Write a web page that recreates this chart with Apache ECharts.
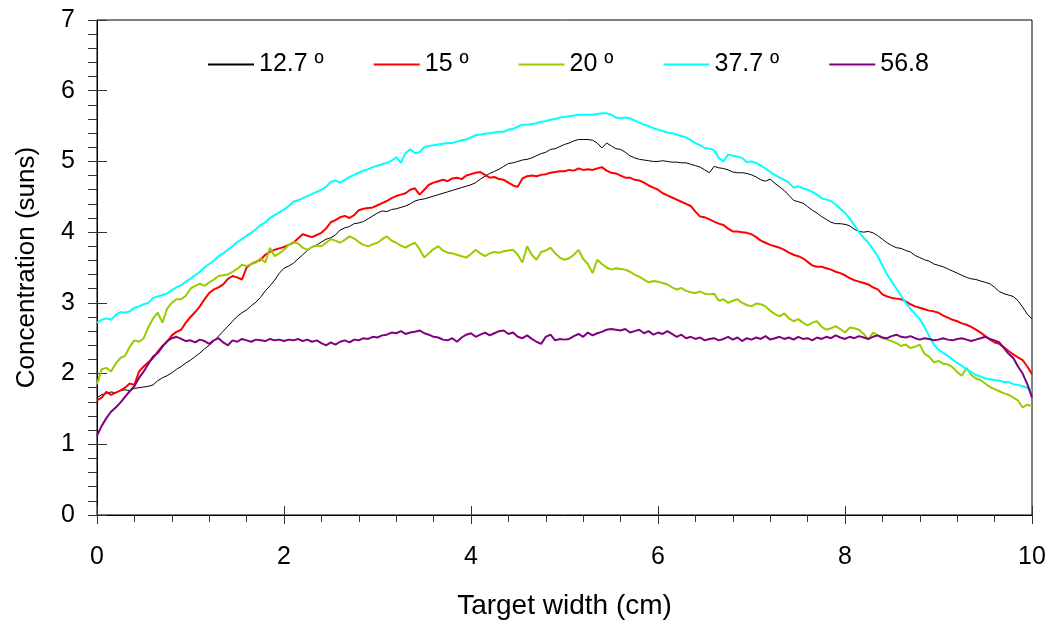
<!DOCTYPE html>
<html>
<head>
<meta charset="utf-8">
<script src="https://cdn.jsdelivr.net/npm/echarts@6/dist/echarts.min.js"></script>
<style>
html,body{margin:0;padding:0;background:#fff;}
#chart{width:1051px;height:625px;}
</style>
</head>
<body>
<div id="chart"></div>
<script>
// x positions (cm), step 0.05
const xValues = [];
for (let i = 0; i <= 200; i++) xValues.push(+(i * 0.05).toFixed(2));

const seriesNames = ['12.7 º', '15 º', '20 º', '37.7 º', '56.8'];

const s127 = [
1.66,1.70,1.72,1.74,1.73,1.76,1.77,1.76,1.79,1.80,1.81,1.82,1.84,1.90,1.94,1.97,2.01,2.06,2.10,2.15,
2.19,2.24,2.29,2.35,2.40,2.46,2.53,2.60,2.67,2.74,2.81,2.86,2.90,2.96,3.01,3.08,3.17,3.24,3.32,3.42,
3.49,3.52,3.56,3.62,3.68,3.74,3.79,3.82,3.86,3.90,3.92,3.96,4.03,4.06,4.08,4.12,4.13,4.15,4.19,4.23,
4.27,4.30,4.29,4.32,4.33,4.35,4.37,4.40,4.44,4.46,4.47,4.49,4.51,4.53,4.55,4.57,4.59,4.61,4.63,4.65,
4.67,4.70,4.75,4.79,4.83,4.86,4.89,4.93,4.97,4.98,5.00,5.02,5.03,5.05,5.08,5.11,5.13,5.17,5.18,5.21,
5.24,5.26,5.29,5.31,5.31,5.31,5.30,5.26,5.19,5.26,5.22,5.18,5.17,5.13,5.08,5.05,5.03,5.02,5.01,5.00,
5.00,5.01,5.00,4.99,4.99,4.98,4.98,4.96,4.94,4.92,4.88,4.84,4.93,4.91,4.90,4.88,4.85,4.84,4.84,4.83,
4.81,4.78,4.74,4.72,4.75,4.69,4.64,4.59,4.52,4.45,4.43,4.41,4.36,4.31,4.27,4.22,4.18,4.14,4.12,4.12,
4.11,4.09,4.04,4.01,4.00,4.01,3.99,3.95,3.90,3.85,3.81,3.78,3.77,3.74,3.72,3.67,3.64,3.61,3.59,3.55,
3.53,3.51,3.48,3.45,3.42,3.39,3.36,3.34,3.33,3.31,3.29,3.27,3.22,3.16,3.13,3.11,3.09,3.03,2.94,2.84,
2.77];

const s15 = [
1.62,1.66,1.74,1.70,1.73,1.76,1.80,1.86,1.84,2.03,2.10,2.16,2.22,2.31,2.39,2.45,2.54,2.59,2.62,2.72,
2.80,2.87,2.95,3.05,3.14,3.19,3.22,3.26,3.34,3.38,3.36,3.33,3.50,3.55,3.58,3.61,3.68,3.72,3.75,3.77,
3.79,3.82,3.85,3.91,3.97,3.95,3.93,3.96,3.99,4.05,4.14,4.17,4.21,4.23,4.20,4.24,4.31,4.33,4.34,4.35,
4.38,4.41,4.44,4.48,4.51,4.53,4.55,4.60,4.62,4.53,4.60,4.67,4.70,4.72,4.74,4.72,4.76,4.77,4.75,4.80,
4.82,4.84,4.85,4.81,4.77,4.78,4.75,4.74,4.70,4.66,4.64,4.76,4.79,4.80,4.79,4.81,4.82,4.84,4.85,4.86,
4.86,4.88,4.87,4.90,4.88,4.89,4.88,4.90,4.92,4.87,4.84,4.83,4.80,4.77,4.77,4.74,4.73,4.70,4.66,4.63,
4.60,4.55,4.52,4.49,4.46,4.43,4.40,4.37,4.29,4.22,4.21,4.18,4.15,4.12,4.10,4.05,4.01,4.01,4.00,3.99,
3.97,3.93,3.88,3.85,3.82,3.80,3.78,3.75,3.71,3.68,3.66,3.63,3.58,3.53,3.51,3.51,3.49,3.47,3.44,3.42,
3.39,3.35,3.32,3.30,3.28,3.26,3.22,3.19,3.12,3.09,3.07,3.06,3.05,3.02,2.98,2.95,2.93,2.91,2.89,2.88,
2.86,2.82,2.79,2.76,2.74,2.71,2.69,2.66,2.62,2.58,2.53,2.48,2.44,2.42,2.37,2.32,2.27,2.23,2.19,2.10,
1.99];

const s20 = [
1.85,2.06,2.08,2.03,2.14,2.22,2.25,2.38,2.47,2.45,2.50,2.66,2.78,2.86,2.72,2.92,3.00,3.05,3.05,3.10,
3.20,3.24,3.27,3.24,3.29,3.33,3.38,3.39,3.40,3.44,3.48,3.54,3.52,3.55,3.57,3.63,3.57,3.78,3.66,3.70,
3.75,3.82,3.86,3.84,3.78,3.75,3.79,3.81,3.80,3.85,3.90,3.88,3.85,3.89,3.94,3.91,3.86,3.82,3.80,3.83,
3.85,3.90,3.94,3.88,3.85,3.81,3.78,3.82,3.85,3.76,3.64,3.70,3.76,3.80,3.74,3.71,3.70,3.68,3.66,3.64,
3.69,3.75,3.70,3.66,3.70,3.72,3.71,3.73,3.74,3.75,3.68,3.57,3.80,3.68,3.61,3.72,3.74,3.78,3.70,3.64,
3.61,3.63,3.68,3.75,3.62,3.55,3.42,3.61,3.55,3.50,3.47,3.49,3.48,3.47,3.44,3.40,3.37,3.33,3.29,3.31,
3.30,3.28,3.26,3.22,3.19,3.21,3.17,3.15,3.14,3.16,3.13,3.12,3.13,3.03,3.05,3.00,3.03,3.05,3.00,2.97,
2.95,2.99,2.98,2.95,2.89,2.84,2.81,2.85,2.78,2.74,2.77,2.72,2.68,2.72,2.74,2.66,2.62,2.64,2.67,2.63,
2.58,2.65,2.64,2.62,2.56,2.48,2.58,2.54,2.50,2.48,2.46,2.43,2.39,2.41,2.36,2.38,2.41,2.28,2.24,2.16,
2.18,2.14,2.13,2.09,2.02,1.97,2.08,1.98,1.93,1.91,1.86,1.81,1.78,1.75,1.72,1.70,1.66,1.62,1.52,1.56,
1.54];

const s377 = [
2.72,2.76,2.78,2.76,2.83,2.87,2.86,2.88,2.93,2.95,2.98,3.00,3.07,3.09,3.11,3.13,3.18,3.22,3.25,3.30,
3.34,3.39,3.44,3.50,3.55,3.60,3.66,3.70,3.75,3.80,3.86,3.90,3.95,3.99,4.04,4.10,4.14,4.20,4.24,4.28,
4.32,4.37,4.43,4.45,4.48,4.51,4.54,4.57,4.60,4.64,4.71,4.73,4.70,4.74,4.78,4.81,4.84,4.87,4.89,4.92,
4.94,4.96,4.98,5.01,5.06,4.98,5.12,5.17,5.12,5.13,5.20,5.22,5.23,5.24,5.25,5.26,5.26,5.28,5.30,5.31,
5.34,5.37,5.38,5.39,5.40,5.41,5.42,5.42,5.45,5.46,5.49,5.52,5.52,5.53,5.54,5.56,5.57,5.59,5.60,5.62,
5.63,5.64,5.65,5.66,5.66,5.66,5.66,5.67,5.68,5.68,5.66,5.62,5.61,5.62,5.61,5.58,5.55,5.52,5.50,5.47,
5.45,5.43,5.41,5.40,5.38,5.36,5.34,5.30,5.26,5.23,5.19,5.18,5.16,5.05,5.00,5.10,5.08,5.07,5.05,4.99,
5.00,4.98,4.94,4.90,4.85,4.81,4.77,4.74,4.70,4.63,4.65,4.62,4.60,4.57,4.53,4.48,4.46,4.44,4.39,4.33,
4.27,4.19,4.10,4.00,3.92,3.85,3.76,3.66,3.53,3.40,3.30,3.20,3.10,3.00,2.92,2.84,2.77,2.66,2.53,2.41,
2.34,2.29,2.25,2.20,2.15,2.11,2.06,2.02,1.98,1.96,1.93,1.92,1.91,1.90,1.88,1.88,1.85,1.84,1.82,1.80,
1.76];

const s568 = [
1.12,1.26,1.37,1.46,1.52,1.59,1.67,1.75,1.82,1.94,2.03,2.14,2.24,2.29,2.38,2.46,2.50,2.52,2.49,2.46,
2.47,2.44,2.48,2.46,2.42,2.47,2.50,2.44,2.40,2.47,2.45,2.49,2.47,2.45,2.48,2.47,2.46,2.49,2.47,2.48,
2.46,2.48,2.47,2.49,2.46,2.48,2.45,2.47,2.43,2.40,2.44,2.41,2.45,2.47,2.44,2.48,2.47,2.50,2.49,2.52,
2.51,2.54,2.55,2.58,2.57,2.60,2.56,2.58,2.59,2.61,2.57,2.55,2.52,2.51,2.48,2.47,2.50,2.45,2.51,2.55,
2.57,2.52,2.55,2.58,2.54,2.57,2.60,2.61,2.56,2.58,2.52,2.50,2.54,2.49,2.45,2.42,2.52,2.55,2.47,2.49,
2.48,2.49,2.53,2.56,2.52,2.58,2.54,2.57,2.59,2.62,2.63,2.62,2.61,2.63,2.58,2.60,2.62,2.57,2.60,2.55,
2.58,2.56,2.60,2.56,2.52,2.55,2.50,2.52,2.49,2.51,2.47,2.49,2.50,2.47,2.49,2.52,2.48,2.51,2.46,2.50,
2.48,2.51,2.49,2.53,2.48,2.50,2.52,2.49,2.51,2.48,2.52,2.49,2.50,2.47,2.51,2.49,2.52,2.50,2.54,2.51,
2.49,2.52,2.50,2.53,2.51,2.49,2.52,2.54,2.51,2.50,2.53,2.55,2.52,2.51,2.53,2.50,2.48,2.50,2.49,2.47,
2.48,2.50,2.48,2.47,2.49,2.50,2.48,2.46,2.48,2.50,2.52,2.49,2.47,2.44,2.36,2.28,2.22,2.10,2.00,1.85,
1.66];

const seriesValues = [s127, s15, s20, s377, s568];
const seriesColors = ['#000000', '#ff0000', '#99cc00', '#00ffff', '#800080'];
const seriesWidths = [1, 2, 2, 2, 2];

const xTickValues = [0, 2, 4, 6, 8, 10];
const yTickValues = [0, 1, 2, 3, 4, 5, 6, 7];

const FONT = '"Liberation Sans", Arial, sans-serif';

const chart = echarts.init(document.getElementById('chart'), null, {renderer: 'canvas'});

const series = seriesNames.map((name, i) => ({
  name: name,
  type: 'line',
  xAxisIndex: 0,
  yAxisIndex: 0,
  showSymbol: false,
  symbol: 'none',
  smooth: false,
  lineStyle: {color: seriesColors[i], width: seriesWidths[i]},
  itemStyle: {color: seriesColors[i]},
  data: xValues.map((x, k) => [x, seriesValues[i][k]])
}));

const option = {
  animation: false,
  backgroundColor: '#ffffff',
  grid: {
    left: 97, right: 19, top: 20, bottom: 109,
    show: true, borderColor: '#000', borderWidth: 1, backgroundColor: 'transparent'
  },
  legend: {
    data: seriesNames,
    left: 207,
    top: 52,
    padding: 0,
    itemWidth: 46,
    itemHeight: 14,
    itemGap: 49,
    itemStyle: {opacity: 0},
    textStyle: {fontFamily: FONT, fontSize: 25, color: '#000'}
  },
  xAxis: [
    {
      type: 'value', min: xTickValues[0], max: xTickValues[xTickValues.length - 1], interval: 2,
      position: 'bottom',
      name: 'Target width (cm)', nameLocation: 'middle', nameGap: 77,
      nameTextStyle: {fontFamily: FONT, fontSize: 28, color: '#000'},
      axisLine: {show: true, onZero: false, lineStyle: {color: '#000', width: 1}},
      axisTick: {show: true, inside: false, length: 9, lineStyle: {color: '#333'}},
      minorTick: {show: true, splitNumber: 5, length: 7, lineStyle: {color: '#333'}},
      axisLabel: {fontFamily: FONT, fontSize: 25, color: '#000', margin: 30},
      splitLine: {show: false}
    },
    {
      type: 'value', min: 0, max: 10, interval: 2, position: 'bottom',
      axisLine: {show: false, onZero: false},
      axisTick: {show: true, inside: true, length: 9, lineStyle: {color: '#333'}},
      axisLabel: {show: false},
      splitLine: {show: false}
    }
  ],
  yAxis: [
    {
      type: 'value', min: yTickValues[0], max: yTickValues[yTickValues.length - 1], interval: 1,
      position: 'left',
      name: 'Concentration (suns)', nameLocation: 'middle', nameGap: 57,
      nameTextStyle: {fontFamily: FONT, fontSize: 26, color: '#000'},
      axisLine: {show: true, onZero: false, lineStyle: {color: '#000', width: 1}},
      axisTick: {show: true, inside: false, length: 9, lineStyle: {color: '#333'}},
      minorTick: {show: true, splitNumber: 5, length: 9, lineStyle: {color: '#333'}},
      axisLabel: {fontFamily: FONT, fontSize: 25, color: '#000', margin: 22},
      splitLine: {show: false}
    },
    {
      type: 'value', min: 0, max: 7, interval: 1, position: 'left', offset: 0,
      axisLine: {show: false, onZero: false},
      axisTick: {show: true, inside: true, length: 10, lineStyle: {color: '#333'}},
      axisLabel: {show: false},
      splitLine: {show: false}
    }
  ],
  series: series
};

chart.setOption(option);
</script>
</body>
</html>
